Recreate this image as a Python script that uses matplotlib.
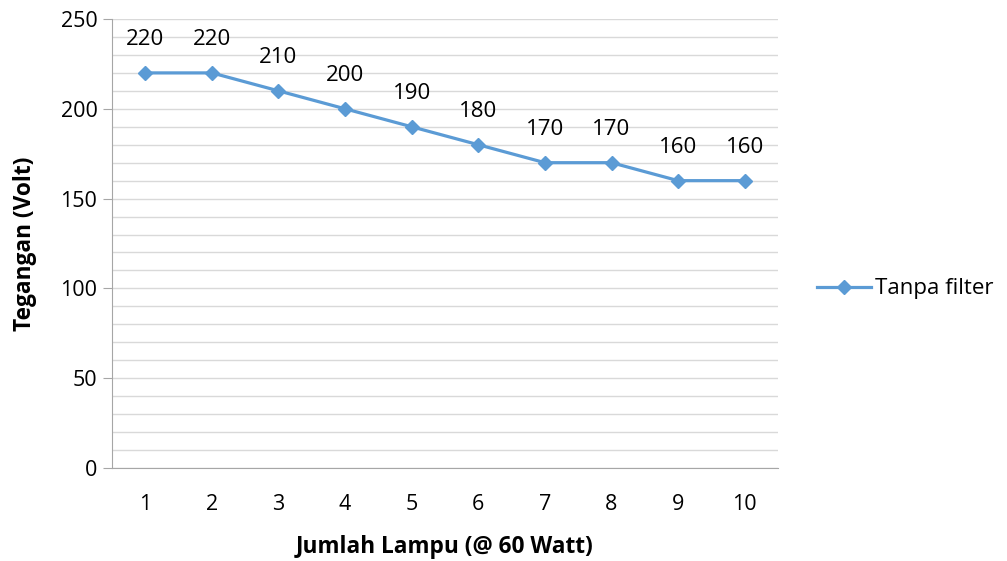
import matplotlib.pyplot as plt
from matplotlib.ticker import MultipleLocator

# Tegangan keluaran tanpa filter per jumlah lampu
jumlah_lampu = [1, 2, 3, 4, 5, 6, 7, 8, 9, 10]
tegangan = [220, 220, 210, 200, 190, 180, 170, 170, 160, 160]

plt.rcParams['font.family'] = ['Open Sans', 'DejaVu Sans']

fig = plt.figure(figsize=(10.07, 5.61), dpi=100)
ax = fig.add_axes([0.1112, 0.1658, 0.6614, 0.8003])

biru = '#5B9BD5'
ax.plot(jumlah_lampu, tegangan, color=biru, lw=2.3, marker='D', ms=7.5,
        label='Tanpa filter', zorder=3)

for x, y in zip(jumlah_lampu, tegangan):
    ax.annotate(str(y), (x, y), xytext=(0, 24), textcoords='offset points',
                ha='center', va='center', fontsize=16, color='#000000')

ax.set_xlim(0.5, 10.5)
ax.set_ylim(0, 250)
ax.set_xticks(jumlah_lampu)
ax.yaxis.set_major_locator(MultipleLocator(50))
ax.yaxis.set_minor_locator(MultipleLocator(10))
ax.grid(True, which='both', axis='y', color='#D9D9D9', lw=1)
ax.set_axisbelow(True)

for s in ['top', 'right']:
    ax.spines[s].set_visible(False)
for s in ['left', 'bottom']:
    ax.spines[s].set_color('#A6A6A6')
ax.tick_params(axis='y', which='major', length=6.5, color='#A6A6A6', labelsize=15.5, pad=4)
ax.tick_params(axis='y', which='minor', length=0)
ax.tick_params(axis='x', length=0, labelsize=15.5, pad=19)

ax.set_xlabel('Jumlah Lampu (@ 60 Watt)', fontsize=16.3, fontweight='bold', labelpad=14)
ax.set_ylabel('Tegangan (Volt)', fontsize=16.3, fontweight='bold', labelpad=17)

ax.legend(loc='center left', bbox_to_anchor=(1.029, 0.399), frameon=False,
          fontsize=16, handlelength=2.4, handletextpad=0.2)

fig.savefig('out.png', dpi=100)
